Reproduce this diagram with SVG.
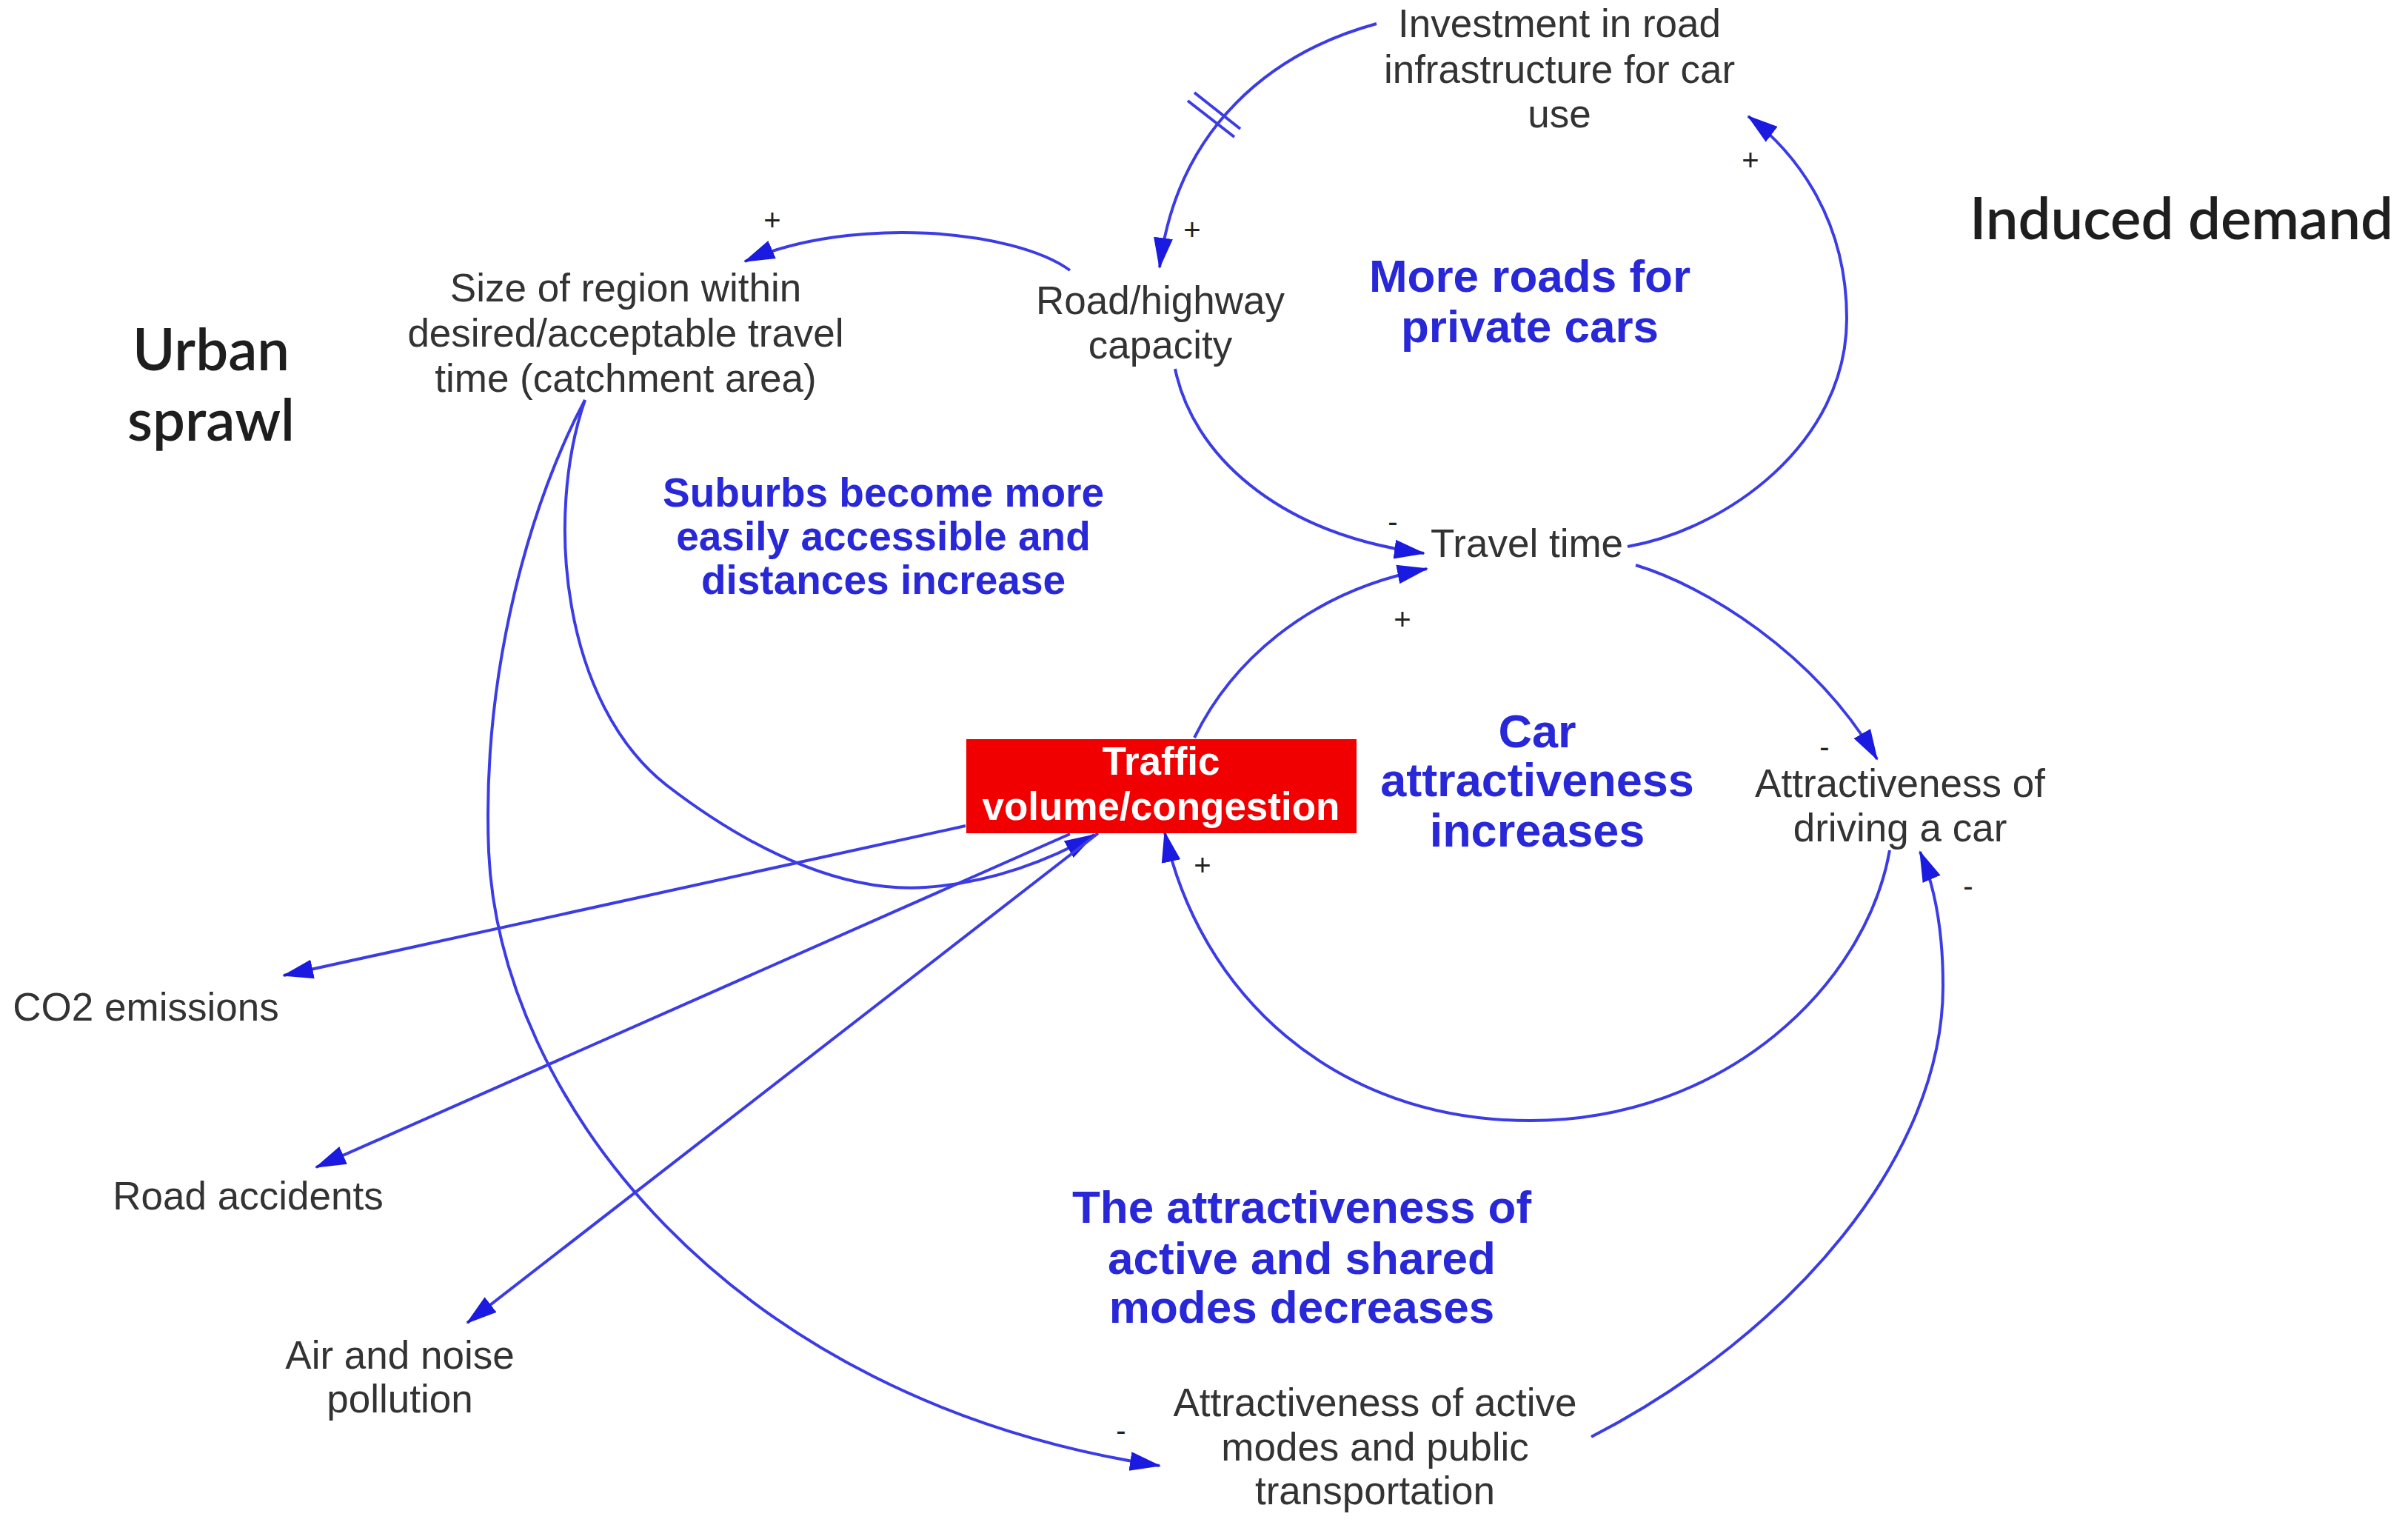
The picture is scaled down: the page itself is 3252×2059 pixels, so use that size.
<svg xmlns="http://www.w3.org/2000/svg" width="3252" height="2059" viewBox="0 0 3252 2059">
<defs>
<marker id="ah" markerUnits="userSpaceOnUse" markerWidth="42" markerHeight="30" viewBox="0 0 42 30" refX="40" refY="15" orient="auto">
<path d="M0,2 L42,15 L0,28 z" fill="#1a1ae0"/>
</marker>
<style>
.n{font-family:"Liberation Sans",Arial,sans-serif;font-size:53px;fill:#333;text-anchor:middle}
.loop{font-family:"Liberation Sans",Arial,sans-serif;font-weight:bold;fill:#2828d8;text-anchor:middle}
.title{font-family:Lato,"Liberation Sans",sans-serif;font-size:78px;font-weight:600;fill:#1e1e1e;text-anchor:middle}
.c{fill:none;stroke:#3c3ce6;stroke-width:4;marker-end:url(#ah)}
.d{fill:none;stroke:#3c3ce6;stroke-width:4}
.s{font-family:"Liberation Sans",Arial,sans-serif;font-size:40px;fill:#222;text-anchor:middle}
</style>
</defs>
<rect width="3252" height="2059" fill="#fff"/>

<g id="connectors">
<path class="c" d="M1859,32 C1720,70 1590,170 1566,361"/>
<line class="d" x1="1613" y1="125" x2="1675" y2="174"/>
<line class="d" x1="1604" y1="136" x2="1667" y2="185"/>
<path class="c" d="M1445,365 C1370,310 1150,290 1006,353"/>
<path class="c" d="M1587,498 C1610,610 1720,720 1923,747"/>
<path class="c" d="M2198,738 C2330,715 2494,600 2494,430 C2494,300 2430,210 2361,157"/>
<path class="c" d="M1613,996 C1660,900 1760,800 1927,768"/>
<path class="c" d="M2209,763 C2300,790 2450,880 2535,1025"/>
<path class="c" d="M2552,1148 C2520,1330 2330,1513 2066,1513 C1800,1513 1620,1340 1573,1124"/>
<path class="c" d="M2149,1940 C2420,1800 2625,1560 2624,1330 C2624,1250 2610,1190 2593,1150"/>
<path class="c" d="M790,540 C735,700 760,950 900,1060 C1030,1160 1150,1205 1250,1198 C1340,1192 1420,1160 1478,1127"/>
<path class="c" d="M790,540 C720,670 650,900 660,1150 C675,1480 980,1890 1566,1979"/>
<path class="c" d="M1304,1115 L383,1317"/>
<path class="c" d="M1445,1126 L427,1576"/>
<path class="c" d="M1483,1125 L631,1786"/>
</g>

<g id="signs">
<text class="s" x="1610" y="324">+</text>
<text class="s" x="1043" y="311">+</text>
<text class="s" x="1881" y="718">-</text>
<text class="s" x="1894" y="850">+</text>
<text class="s" x="2364" y="230">+</text>
<text class="s" x="2464" y="1022">-</text>
<text class="s" x="2658" y="1210">-</text>
<text class="s" x="1624" y="1182">+</text>
<text class="s" x="1514" y="1945">-</text>
</g>

<g id="investment">
<text class="n" x="2106" y="50">Investment in road</text>
<text class="n" x="2106" y="112">infrastructure for car</text>
<text class="n" x="2106" y="172">use</text>
</g>
<g id="road-capacity">
<text class="n" x="1567" y="424">Road/highway</text>
<text class="n" x="1567" y="484">capacity</text>
</g>
<g id="catchment">
<text class="n" x="845" y="407">Size of region within</text>
<text class="n" x="845" y="468">desired/acceptable travel</text>
<text class="n" x="845" y="529">time (catchment area)</text>
</g>
<g id="travel-time">
<text class="n" x="2062" y="752">Travel time</text>
</g>
<g id="traffic">
<rect x="1305" y="998" width="527" height="127" fill="#f00000"/>
<text x="1568" y="1046" style="font-family:'Liberation Sans',Arial,sans-serif;font-weight:bold;font-size:53px;fill:#fff;text-anchor:middle">Traffic</text>
<text x="1568" y="1107" style="font-family:'Liberation Sans',Arial,sans-serif;font-weight:bold;font-size:53px;fill:#fff;text-anchor:middle">volume/congestion</text>
</g>
<g id="car-attractiveness">
<text class="n" x="2566" y="1076">Attractiveness of</text>
<text class="n" x="2566" y="1136">driving a car</text>
</g>
<g id="co2">
<text class="n" x="197" y="1378">CO2 emissions</text>
</g>
<g id="accidents">
<text class="n" x="335" y="1633">Road accidents</text>
</g>
<g id="pollution">
<text class="n" x="540" y="1848">Air and noise</text>
<text class="n" x="540" y="1907">pollution</text>
</g>
<g id="active-modes">
<text class="n" x="1857" y="1912">Attractiveness of active</text>
<text class="n" x="1857" y="1972">modes and public</text>
<text class="n" x="1857" y="2031">transportation</text>
</g>

<g id="loop-more-roads">
<text class="loop" x="2066" y="394" font-size="62">More roads for</text>
<text class="loop" x="2066" y="462" font-size="62">private cars</text>
</g>
<g id="loop-suburbs">
<text class="loop" x="1193" y="684" font-size="55">Suburbs become more</text>
<text class="loop" x="1193" y="743" font-size="55">easily accessible and</text>
<text class="loop" x="1193" y="802" font-size="55">distances increase</text>
</g>
<g id="loop-car">
<text class="loop" x="2076" y="1009" font-size="63">Car</text>
<text class="loop" x="2076" y="1075" font-size="63">attractiveness</text>
<text class="loop" x="2076" y="1143" font-size="63">increases</text>
</g>
<g id="loop-active">
<text class="loop" x="1758" y="1651" font-size="62">The attractiveness of</text>
<text class="loop" x="1758" y="1720" font-size="62">active and shared</text>
<text class="loop" x="1758" y="1786" font-size="62">modes decreases</text>
</g>

<g id="urban-sprawl">
<text class="title" x="285" y="500">Urban</text>
<text class="title" x="285" y="595">sprawl</text>
</g>
<g id="induced-demand">
<text class="title" x="2946" y="323">Induced demand</text>
</g>
</svg>
